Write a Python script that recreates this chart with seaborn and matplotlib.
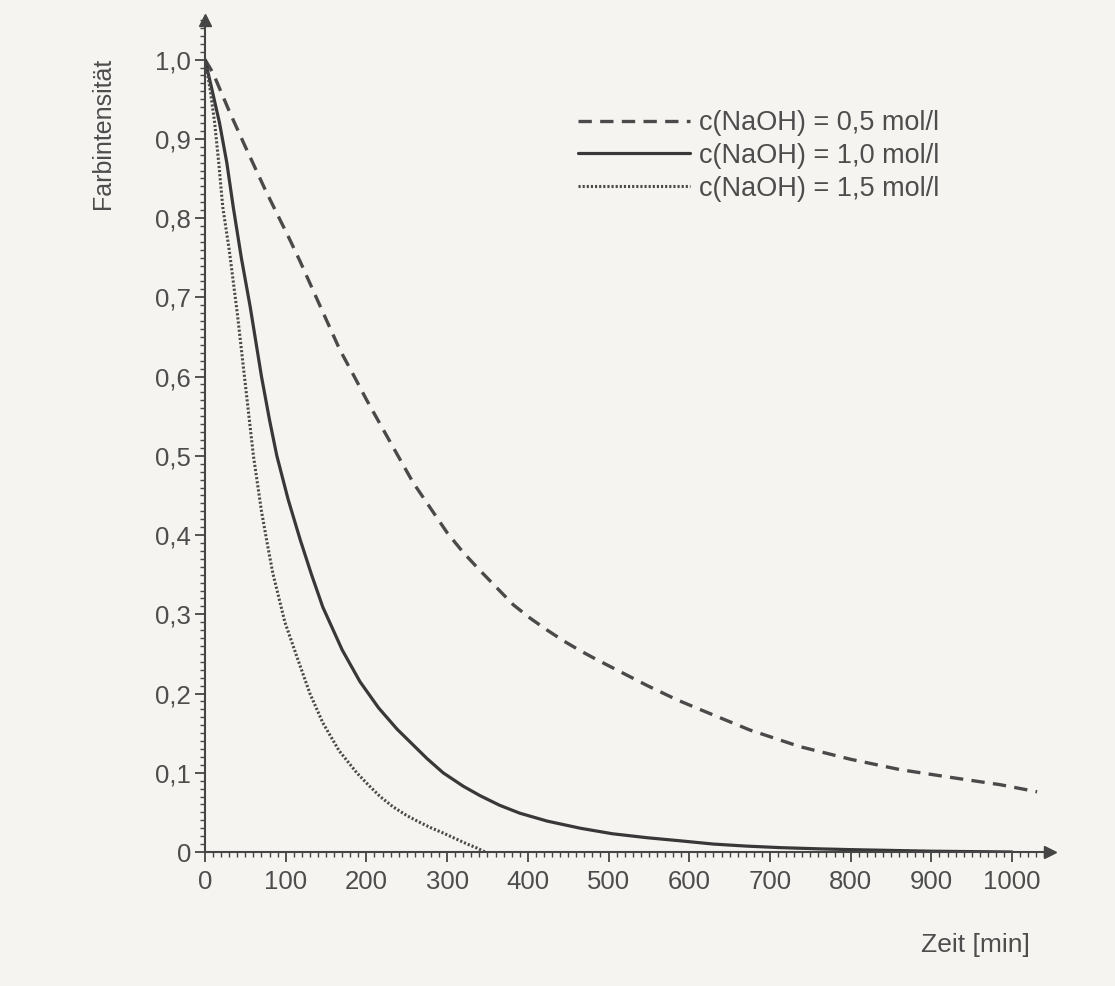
import numpy as np
import pandas as pd
import matplotlib
matplotlib.use("Agg")
import matplotlib.pyplot as plt
import seaborn as sns
from matplotlib.ticker import MultipleLocator, FixedLocator

# ---- data ----
t_05 = [0, 10, 30, 50, 75, 105, 118, 140, 167, 185, 200, 217, 238, 258, 280, 300, 320, 341, 362, 382,
        403, 424, 445, 465, 485, 506, 548, 585, 613, 675, 737, 800, 861, 925, 985, 1031]
v_05 = [1.0, 0.983, 0.935, 0.89, 0.835, 0.773, 0.745, 0.695, 0.634, 0.600, 0.571, 0.540, 0.502, 0.466, 0.433,
        0.403, 0.378, 0.355, 0.333, 0.312, 0.295, 0.280, 0.266, 0.254, 0.243, 0.232, 0.210, 0.192, 0.180,
        0.154, 0.133, 0.117, 0.104, 0.094, 0.085, 0.076]

t_10 = [0, 8, 18, 27, 35, 45, 56, 70, 80, 89, 103, 118, 132, 146, 170, 192, 215, 238, 258, 275, 295, 320,
        341, 365, 390, 424, 465, 505, 548, 590, 630, 670, 713, 760, 800, 850, 900, 950, 1000]
v_10 = [1.0, 0.965, 0.92, 0.87, 0.814, 0.75, 0.688, 0.60, 0.545, 0.50, 0.445, 0.394, 0.35, 0.309, 0.255,
        0.215, 0.182, 0.155, 0.135, 0.118, 0.100, 0.083, 0.071, 0.059, 0.049, 0.039, 0.030, 0.023, 0.018,
        0.014, 0.010, 0.0075, 0.0055, 0.004, 0.003, 0.002, 0.001, 0.0005, 0.0]

t_15 = [0, 6, 12, 17, 22, 30, 40, 50, 60, 70, 77, 84, 99, 114, 130, 146, 166, 188, 203, 217, 233, 250,
        265, 279, 295, 310, 325, 337, 347]
v_15 = [1.0, 0.965, 0.92, 0.87, 0.814, 0.76, 0.68, 0.59, 0.50, 0.43, 0.39, 0.352, 0.29, 0.246, 0.20,
        0.163, 0.128, 0.100, 0.084, 0.070, 0.057, 0.046, 0.038, 0.031, 0.024, 0.017, 0.010, 0.005, 0.0]

series_labels = ["c(NaOH) = 0,5 mol/l", "c(NaOH) = 1,0 mol/l", "c(NaOH) = 1,5 mol/l"]
x_ticks = [0, 100, 200, 300, 400, 500, 600, 700, 800, 900, 1000]
x_ticklabels = ["0", "100", "200", "300", "400", "500", "600", "700", "800", "900", "1000"]
y_ticks = [0, 0.1, 0.2, 0.3, 0.4, 0.5, 0.6, 0.7, 0.8, 0.9, 1.0]
y_ticklabels = ["0", "0,1", "0,2", "0,3", "0,4", "0,5", "0,6", "0,7", "0,8", "0,9", "1,0"]
x_label = "Zeit [min]"
y_label = "Farbintensität"

# ---- style ----
sns.set_theme(style="ticks")
plt.rcParams["font.family"] = ["Liberation Sans", "DejaVu Sans"]
bg = "#f5f4f0"
ink = "#454545"
text_col = "#4d4d4d"

fig = plt.figure(figsize=(11.15, 9.86), dpi=100, facecolor=bg)
ax = fig.add_axes([205 / 1115, 1 - 852 / 986, (1050 - 205) / 1115, (852 - 20) / 986])
ax.set_facecolor(bg)

df05 = pd.DataFrame({"t": t_05, "v": v_05})
df10 = pd.DataFrame({"t": t_10, "v": v_10})
df15 = pd.DataFrame({"t": t_15, "v": v_15})

sns.lineplot(data=df05, x="t", y="v", ax=ax, color="#4a4a4a", linewidth=2.4,
             linestyle=(0, (4.0, 2.5)), label=series_labels[0], errorbar=None)
sns.lineplot(data=df10, x="t", y="v", ax=ax, color="#383838", linewidth=2.3,
             linestyle="-", label=series_labels[1], errorbar=None)
sns.lineplot(data=df15, x="t", y="v", ax=ax, color="#4a4a4a", linewidth=2.2,
             linestyle=(0, (0.7, 0.65)), label=series_labels[2], errorbar=None)

ax.set_xlim(0, 1047)
ax.set_ylim(0, 1.05)

for side in ["top", "right"]:
    ax.spines[side].set_visible(False)
for side in ["left", "bottom"]:
    ax.spines[side].set_color(ink)
    ax.spines[side].set_linewidth(1.5)

ax.xaxis.set_major_locator(FixedLocator(x_ticks))
ax.set_xticklabels(x_ticklabels)
ax.yaxis.set_major_locator(FixedLocator(y_ticks))
ax.set_yticklabels(y_ticklabels)
ax.xaxis.set_minor_locator(MultipleLocator(10))
ax.yaxis.set_minor_locator(MultipleLocator(0.01))

ax.tick_params(axis="both", which="major", direction="out", length=7, width=1.3,
               color=ink, labelcolor=text_col, labelsize=18.5)
ax.tick_params(axis="x", which="major", pad=6)
ax.tick_params(axis="y", which="major", pad=3)
ax.tick_params(axis="both", which="minor", direction="out", length=3.5, width=1.0, color=ink)

ax.set_xlabel("")
ax.set_ylabel("")

# axis arrow heads
ax.plot([1], [0], marker=">", color=ink, markersize=9, transform=ax.transAxes, clip_on=False)
ax.plot([0], [1], marker="^", color=ink, markersize=9, transform=ax.transAxes, clip_on=False)

fig.text(1030 / 1115, 1 - 945 / 986, x_label, ha="right", va="center", fontsize=19, color=text_col)
fig.text(103 / 1115, 1 - 58 / 986, y_label, ha="center", va="top", rotation=90, fontsize=18, color=text_col)

leg = ax.legend(loc="upper left", bbox_to_anchor=(578 / 1115, 1 - 110 / 986),
                bbox_transform=fig.transFigure, frameon=False, fontsize=19.5,
                handlelength=4.13, handletextpad=0.35, borderpad=0, borderaxespad=0,
                labelspacing=0.25)
for txt in leg.get_texts():
    txt.set_color(text_col)

fig.savefig("out.png", dpi=100, facecolor=bg)
